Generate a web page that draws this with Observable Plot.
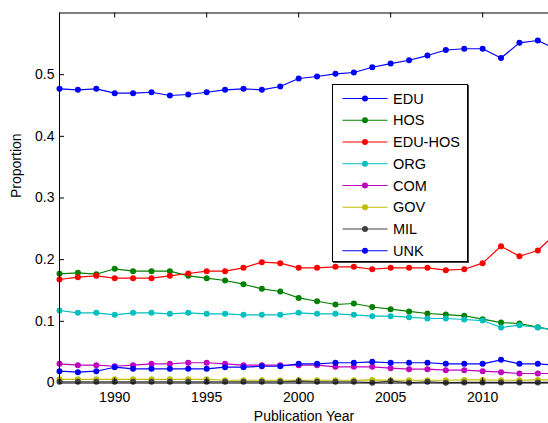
<!DOCTYPE html>
<html>
<head>
<meta charset="utf-8">
<script src="https://cdn.jsdelivr.net/npm/d3@7"></script>
<script src="https://cdn.jsdelivr.net/npm/@observablehq/plot@0.6"></script>
<style>
  html, body { margin: 0; padding: 0; background: white; }
  #wrap { position: relative; width: 548px; height: 423px; overflow: hidden; }
  #legend { position: absolute; left: 332px; top: 84px; width: 134px; height: 176px;
            background: white; border: 1px solid #000; box-shadow: 1px 1px 0 #444; }
</style>
</head>
<body>
<div id="wrap"><div id="legend"></div></div>
<script>
const years = [1987,1988,1989,1990,1991,1992,1993,1994,1995,1996,1997,1998,1999,2000,
               2001,2002,2003,2004,2005,2006,2007,2008,2009,2010,2011,2012,2013,2014];

const EDU = [0.477,0.4754,0.477,0.470,0.470,0.4715,0.4662,0.4678,0.4715,0.4754,0.477,0.4754,0.4808,0.4938,
             0.497,0.5014,0.5035,0.512,0.518,0.5234,0.531,0.540,0.542,0.542,0.527,0.5516,0.5554,0.541];
const HOS = [0.177,0.1787,0.1764,0.1852,0.1813,0.1813,0.1813,0.1738,0.170,0.1662,0.1602,0.1527,0.1484,0.138,
             0.1326,0.1273,0.1289,0.1232,0.1197,0.116,0.1127,0.111,0.109,0.1035,0.098,0.0965,0.0905,0.085];
const EDU_HOS = [0.1678,0.1716,0.1738,0.170,0.170,0.170,0.1738,0.1776,0.1813,0.1813,0.1868,0.1959,0.1943,0.1868,
             0.1868,0.1884,0.1884,0.1845,0.1868,0.1868,0.1868,0.1829,0.1845,0.1943,0.2218,0.2056,0.2149,0.243];
const ORG = [0.1176,0.1138,0.1138,0.1106,0.1138,0.1138,0.1122,0.1138,0.1122,0.1122,0.1106,0.1106,0.1106,0.1138,
             0.1122,0.1122,0.1106,0.1083,0.1083,0.1067,0.1046,0.1046,0.103,0.1013,0.090,0.0937,0.090,0.086];
const COM = [0.0311,0.0289,0.0289,0.0272,0.0289,0.0311,0.0311,0.0328,0.0328,0.0311,0.0289,0.0289,0.0289,0.0289,
             0.0289,0.0263,0.0263,0.0263,0.024,0.0224,0.0224,0.0208,0.0208,0.0191,0.0175,0.0154,0.0154,0.0154];
const GOV = [0.006,0.006,0.006,0.006,0.006,0.006,0.006,0.006,0.006,0.0045,0.0045,0.0045,0.0045,0.0045,
             0.0045,0.0045,0.0045,0.005,0.0045,0.0045,0.0045,0.0045,0.005,0.005,0.0045,0.0045,0.005,0.005];
const MIL = [0.002,0.002,0.002,0.002,0.002,0.002,0.002,0.002,0.002,0.002,0.002,0.002,0.002,0.003,
             0.002,0.002,0.002,0.0005,0.003,0.0005,0.002,0.0005,0.001,0.001,0.001,0.001,0.001,0.001];
const UNK = [0.0191,0.0175,0.0191,0.0256,0.023,0.023,0.023,0.023,0.023,0.0256,0.0256,0.0272,0.0272,0.0311,
             0.0311,0.0328,0.0328,0.0344,0.0328,0.0328,0.0328,0.0311,0.0311,0.0311,0.0376,0.0311,0.0311,0.029];

const seriesNames = ["EDU","HOS","EDU-HOS","ORG","COM","GOV","MIL","UNK"];
const seriesValues = [EDU, HOS, EDU_HOS, ORG, COM, GOV, MIL, UNK];
const seriesColors = ["#0000ff","#008000","#ff0000","#00bfbf","#bf00bf","#bfbf00","#404040","#0000ff"];

const xTicks = [1990,1995,2000,2005,2010];
const yTicks = [0,0.1,0.2,0.3,0.4,0.5];
const yTickLabels = ["0","0.1","0.2","0.3","0.4","0.5"];
const xLabel = "Publication Year";
const yLabel = "Proportion";

const data = [];
seriesNames.forEach((name, i) => {
  years.forEach((yr, j) => data.push({series: name, order: i, year: yr, value: seriesValues[i][j]}));
});

const W = 548, H = 423, mT = 12.5, mB = 40.5, mL = 59;
const yMax = 0.6, xMin = 1987, xMax = 2013.58;
const tkY = 5 * yMax / (H - mT - mB);
const tkX = 5 * (xMax - xMin) / (W - mL);
const font = "'Liberation Sans', Arial, Helvetica, sans-serif";

const marks = [
  Plot.axisX({ticks: xTicks, tickSize: 0, tickPadding: 9, tickFormat: d => String(d), label: null, fontSize: 14}),
  Plot.axisY({ticks: yTicks, tickSize: 0, tickPadding: 5, tickFormat: (d, i) => yTickLabels[i], label: null, fontSize: 14}),
];
seriesNames.forEach((name, i) => {
  const d = data.filter(r => r.series === name);
  marks.push(Plot.line(d, {x: "year", y: "value", stroke: seriesColors[i], strokeWidth: 1.2}));
  marks.push(Plot.dot(d, {x: "year", y: "value", fill: seriesColors[i], r: 3}));
});
marks.push(
  Plot.ruleX([xMin], {stroke: "black", strokeWidth: 1}),
  Plot.ruleY([0], {stroke: "black", strokeWidth: 1}),
  Plot.ruleY([yMax], {stroke: "black", strokeWidth: 1}),
  Plot.ruleX(xTicks, {x: d => d, y1: yMax, y2: yMax - tkY, stroke: "black"}),
  Plot.ruleX(xTicks, {x: d => d, y1: 0, y2: tkY, stroke: "black"}),
  Plot.ruleY(yTicks.slice(1), {y: d => d, x1: xMin, x2: xMin + tkX, stroke: "black"}),
  Plot.text([xLabel], {frameAnchor: "bottom", dy: 33.5, lineAnchor: "middle", fontSize: 14, fill: "black"}),
  Plot.text([yLabel], {frameAnchor: "left", dx: -42.5, rotate: -90, lineAnchor: "middle", fontSize: 14, fill: "black"})
);

const chart = Plot.plot({
  width: W, height: H,
  marginLeft: mL, marginRight: 0, marginTop: mT, marginBottom: mB,
  x: {domain: [xMin, xMax]},
  y: {domain: [0, yMax]},
  style: {fontFamily: font, fontSize: "14px", background: "white", color: "black"},
  marks
});
const wrap = document.getElementById("wrap");
wrap.insertBefore(chart, wrap.firstChild);

// legend
const leg = d3.select("#legend").append("svg").attr("width", 134).attr("height", 176)
  .style("font-family", font).style("font-size", "14.5px");
seriesNames.forEach((name, i) => {
  const cy = 13.5 + i * 21.75;
  const g = leg.append("g").attr("transform", `translate(0,${cy})`);
  g.append("line").attr("x1", 9.5).attr("x2", 54.5).attr("y1", 0).attr("y2", 0)
    .attr("stroke", seriesColors[i]).attr("stroke-width", 1.2);
  g.append("circle").attr("cx", 32).attr("cy", 0).attr("r", 3).attr("fill", seriesColors[i]);
  g.append("text").attr("x", 60).attr("y", 0).attr("dy", "0.35em").attr("fill", "black").text(name);
});
</script>
</body>
</html>
